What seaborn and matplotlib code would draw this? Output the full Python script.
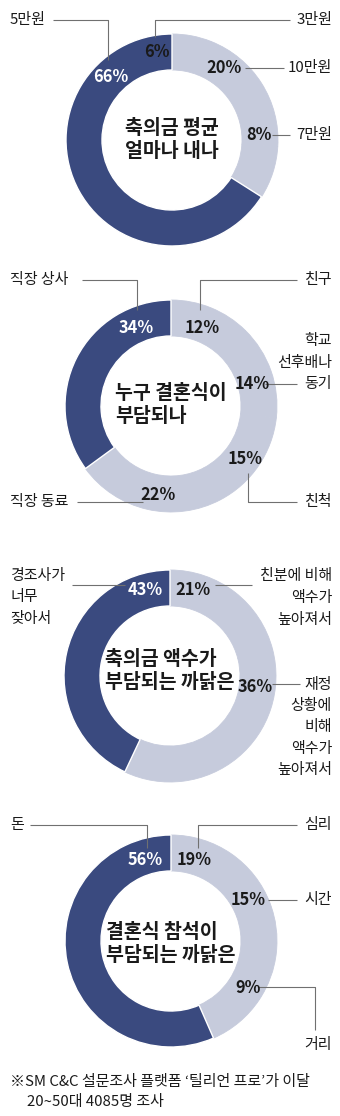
import matplotlib
matplotlib.use("Agg")
import matplotlib.pyplot as plt
import seaborn as sns

# ---------------- data ----------------
c1_labels = ["3만원", "10만원", "7만원", "5만원"]
c1_values = [6, 20, 8, 66]
c1_title = "축의금 평균\n얼마나 내나"

c2_labels = ["친구", "학교\n선후배나\n동기", "친척", "직장 동료", "직장 상사"]
c2_values = [12, 14, 15, 22, 34]
c2_title = "누구 결혼식이\n부담되나"

c3_labels = ["친분에 비해\n액수가\n높아져서", "재정\n상황에\n비해\n액수가\n높아져서", "경조사가\n너무\n잦아서"]
c3_values = [21, 36, 43]
c3_title = "축의금 액수가\n부담되는 까닭은"

c4_labels = ["심리", "시간", "거리", "돈"]
c4_values = [19, 15, 9, 56]
c4_title = "결혼식 참석이\n부담되는 까닭은"

footnote = ["※SM C&C 설문조사 플랫폼 ‘틸리언 프로’가 이달", "20~50대 4085명 조사"]

# ---------------- style ----------------
sns.set_theme(style="white")
plt.rcParams['font.family'] = ['Noto Sans CJK KR', 'DejaVu Sans']

DARK = "#3a4a7f"
LIGHT = "#c6cbdc"
LINE = "#707070"
TXT = "#1a1a1a"

W, H = 340, 1116
fig = plt.figure(figsize=(W / 100, H / 100), dpi=100)
ax = fig.add_axes([0, 0, 1, 1])


def Y(p):
    return H - p


R = 106
RING = 36


def donut(values, dark_index, cx, cy):
    colors = [DARK if i == dark_index else LIGHT for i in range(len(values))]
    wedges, _ = ax.pie(values, colors=colors, startangle=90, counterclock=False,
                       radius=R, center=(cx, Y(cy)), frame=True,
                       wedgeprops=dict(width=RING))
    for i, w in enumerate(wedges):
        if i == dark_index:
            w.set_edgecolor("white")
            w.set_linewidth(1.0)
        else:
            w.set_edgecolor(LIGHT)
            w.set_linewidth(0.6)
    return wedges


def pct(v, x, y, dark=False):
    ax.text(x, Y(y), f"{v}%", ha='center', va='center', fontsize=11.8,
            fontweight='bold', color='white' if dark else TXT)


def lab(s, x, y, ha, dy=21.5):
    for i, part in enumerate(s.split("\n")):
        ax.text(x, Y(y + i * dy), part, ha=ha, va='center', fontsize=10.8,
                color=TXT)


def line(xs, ys):
    ax.plot(xs, [Y(v) for v in ys], color=LINE, lw=0.8, solid_capstyle='butt')


def title(s, cx, cy):
    ax.text(cx, Y(cy), s, ha='center', va='center', multialignment='left',
            fontsize=14, fontweight='bold', color=TXT, linespacing=1.25)


LX = 10
RX = 332

# ---- chart 1 ----
cx, cy = 172, 140
donut(c1_values, 3, cx, cy)
title(c1_title, cx, cy)
pct(c1_values[0], 157, 52)
pct(c1_values[1], 224, 68)
pct(c1_values[2], 259, 135)
pct(c1_values[3], 111, 77, dark=True)
lab(c1_labels[3], LX, 20, 'left')
line([53, 108, 108], [20, 20, 60])
lab(c1_labels[0], RX, 20, 'right')
line([290, 155, 155], [20, 20, 37])
lab(c1_labels[1], RX, 68, 'right')
line([245, 284], [68, 68])
lab(c1_labels[2], RX, 135, 'right')
line([272, 290], [135, 135])

# ---- chart 2 ----
cx, cy = 171, 406
donut(c2_values, 4, cx, cy)
title(c2_title, cx, 405)
pct(c2_values[0], 202, 328)
pct(c2_values[1], 252, 384)
pct(c2_values[2], 245, 459)
pct(c2_values[3], 158, 495)
pct(c2_values[4], 136, 328, dark=True)
lab(c2_labels[4], LX, 280, 'left')
line([82, 137, 137], [280, 280, 310])
lab(c2_labels[0], RX, 280, 'right')
line([297, 200, 200], [280, 280, 310])
lab(c2_labels[1], RX, 341, 'right')
line([265, 297], [384, 384])
lab(c2_labels[2], RX, 502, 'right')
line([248, 248, 297], [473, 502, 502])
lab(c2_labels[3], LX, 502, 'left')
line([77, 143], [502, 502])

# ---- chart 3 ----
cx, cy = 170, 676
donut(c3_values, 2, cx, cy)
title(c3_title, cx, 671)
pct(c3_values[0], 193, 590)
pct(c3_values[1], 255, 687)
pct(c3_values[2], 145, 590, dark=True)
lab(c3_labels[2], LX, 576, 'left', dy=21.5)
line([72, 125], [585, 585])
lab(c3_labels[0], RX, 576, 'right', dy=22)
line([215, 252], [585, 585])
lab(c3_labels[1], RX, 685, 'right', dy=21.2)
line([272, 300], [684, 684])

# ---- chart 4 ----
cx, cy = 171, 941
donut(c4_values, 3, cx, cy)
title(c4_title, cx, 944)
pct(c4_values[0], 194, 860)
pct(c4_values[1], 248, 900)
pct(c4_values[2], 248, 988)
pct(c4_values[3], 145, 860, dark=True)
lab(c4_labels[3], LX, 825, 'left')
line([30, 147, 147], [825, 825, 848])
lab(c4_labels[0], RX, 825, 'right')
line([297, 198, 198], [825, 825, 848])
lab(c4_labels[1], RX, 900, 'right')
line([268, 297], [900, 900])
lab(c4_labels[2], RX, 1045, 'right')
line([258, 315, 315], [987, 987, 1030])

# ---- footnote ----
ax.text(LX, Y(1082), footnote[0], ha='left', va='center', fontsize=10.8, color=TXT)
ax.text(27, Y(1102), footnote[1], ha='left', va='center', fontsize=10.8, color=TXT)

ax.set_xlim(0, W)
ax.set_ylim(0, H)
ax.set_aspect('equal')
ax.axis('off')

fig.savefig("out.png", dpi=100, facecolor='white')
